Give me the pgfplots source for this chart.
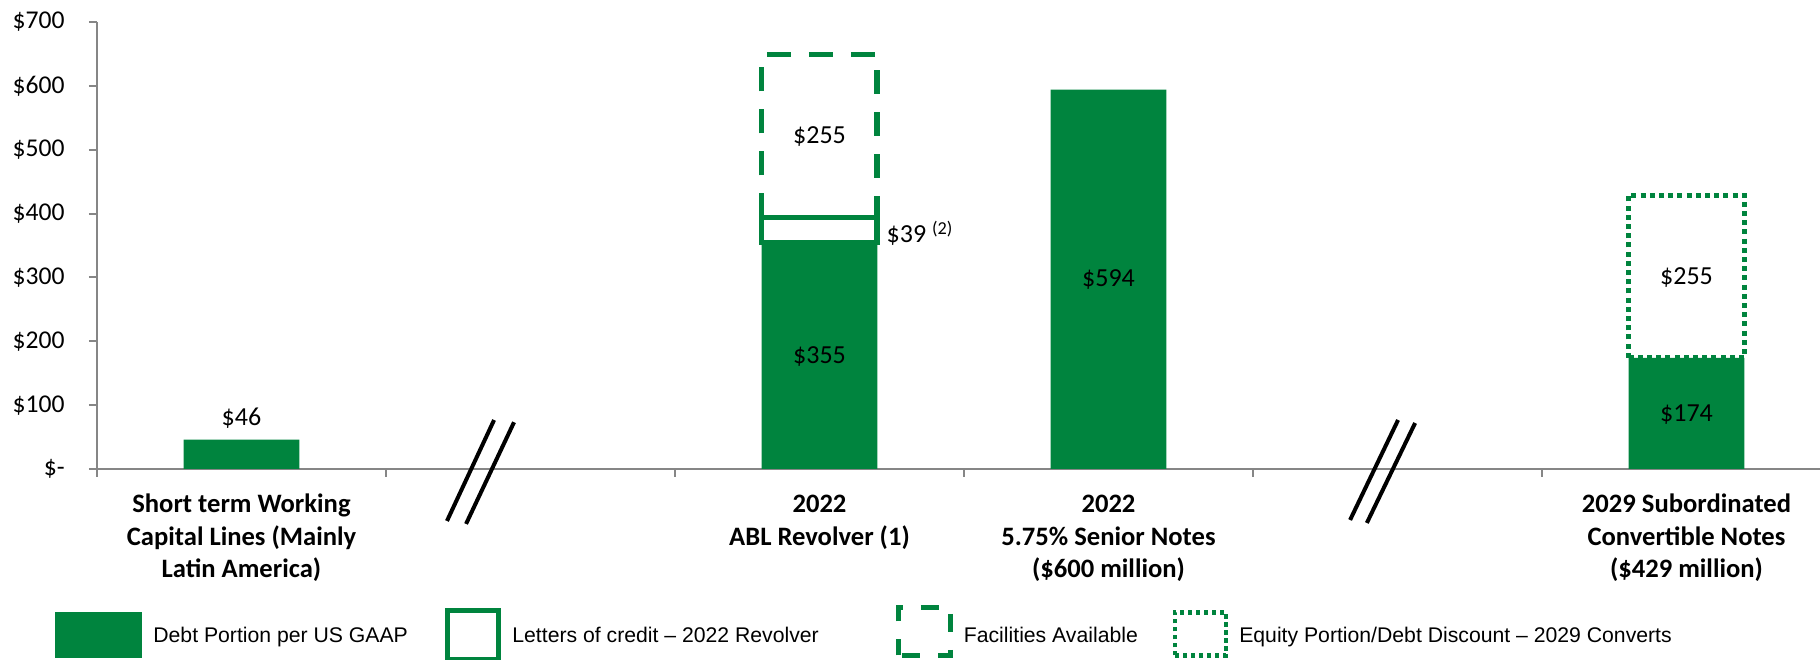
\documentclass[border=0pt]{standalone}
\usepackage{pgfplots}
\pgfplotsset{compat=1.18}
\usepackage{fontspec}
\setmainfont{Carlito}
\newfontfamily\arialf{Liberation Sans}
\definecolor{dgreen}{RGB}{0,132,62}
\definecolor{axgray}{RGB}{134,134,134}
\begin{document}
\begin{tikzpicture}
\begin{axis}[
  name=ax,
  scale only axis,
  width=861.5pt, height=223.5pt,
  xmin=-0.5, xmax=5.462, ymin=0, ymax=700,
  clip=false,
  axis lines=left,
  axis line style={draw=axgray, line width=1pt, -},
  tick style={draw=axgray, line width=1pt},
  major tick length=4pt,
  tick align=outside,
  /pgf/number format/assume math mode=true,
  ytick={0,100,200,300,400,500,600,700},
  yticklabels={\$-,\$100,\$200,\$300,\$400,\$500,\$600,\$700},
  yticklabel style={font=\fontsize{12.8}{14}\selectfont, inner sep=0pt, xshift=-12pt},
  xtick={-0.5,0.5,1.5,2.5,3.5,4.5},
  xticklabels={},
  extra x ticks={0,2,3,5},
  extra x tick labels={
    {\rule{0pt}{10pt}Short term Working\\Capital Lines (Mainly\\Latin America)},
    {\rule{0pt}{10pt}2022\\ABL Revolver (1)},
    {\rule{0pt}{10pt}2022\\5.75\% Senior Notes\\(\$600 million)},
    {\rule{0pt}{10pt}2029 Subordinated\\Convertible Notes\\(\$429 million)}},
  extra x tick style={major tick length=0pt, tick style={draw=none}},
  xticklabel style={align=center, font=\bfseries\fontsize{13.3}{16.3}\selectfont, inner sep=0pt, anchor=north, yshift=-11.6pt},
  legend columns=4,
  legend style={at={(axis description cs:0,0)}, anchor=west, xshift=-21pt, yshift=-82.25pt,
    draw=none, fill=none, inner sep=0pt,
    cells={anchor=base west},
    nodes={inner sep=0pt},
    font=\arialf\fontsize{10.6}{12}\selectfont,
    /tikz/every odd column/.append style={column sep=5.5pt},
    /tikz/every even column/.append style={column sep=0pt}},
]
% Debt portion per US GAAP
\addplot[ybar, bar width=0.4, bar shift=0pt, fill=dgreen, draw=none,
  legend image code/.code={\fill[dgreen] (0pt,-7.55pt) rectangle (43.5pt,15.15pt);}]
  coordinates {(0,46) (2,355) (3,594) (5,174)};
% Letters of credit - 2022 Revolver (355 to 394)
\addplot[draw=dgreen, line width=2.8pt, fill=white, line join=miter,
  legend image code/.code={\draw[draw=dgreen, fill=white, line width=2.5pt] (1.25pt,-8.45pt) rectangle (26.75pt,16.05pt);}]
  coordinates {(1.8,355) (1.8,394) (2.2,394) (2.2,355)} -- cycle;
% Facilities available (394 to 649)
\addplot[draw=dgreen, line width=2.8pt, dash pattern=on 12pt off 9pt,
  legend image code/.code={\draw[draw=dgreen, fill=none, line width=2.5pt, dash pattern=on 9pt off 9pt, dash phase=1pt] (1.25pt,-6.45pt) rectangle (27pt,17.55pt);}]
  coordinates {(1.8,394) (1.8,649) (2.2,649) (2.2,394)};
% Equity portion / debt discount (174 to 429)
\addplot[draw=dgreen, line width=2.5pt, dash pattern=on 2.5pt off 2.1pt,
  legend image code/.code={\draw[draw=dgreen, fill=none, line width=2.2pt, dash pattern=on 2.2pt off 1.8pt] (1.25pt,-6.45pt) rectangle (26.75pt,15.05pt);}]
  coordinates {(4.8,174) (4.8,429) (5.2,429) (5.2,174)} -- cycle;
\legend{\makebox[146pt][l]{Debt Portion per US GAAP},
  \makebox[192pt][l]{Letters of credit \textendash{} 2022 Revolver},
  \makebox[104.5pt][l]{Facilities Available},
  Equity Portion/Debt Discount \textendash{} 2029 Converts}
% value labels
\begin{scope}[every node/.style={font=\fontsize{13}{15}\selectfont}]
\node at (axis cs:0,80) {\$46};
\node at (axis cs:2,176) {\$355};
\node at (axis cs:2,520) {\$255};
\node[anchor=west, inner sep=0pt, xshift=4.5pt] at (axis cs:2.2,369) {\$39 \textsuperscript{(2)}};
\node at (axis cs:3,296) {\$594};
\node at (axis cs:5,84.5) {\$174};
\node at (axis cs:5,300) {\$255};
\end{scope}
% axis break marks
\draw[black, line width=2pt] (axis cs:0.711,-81.4) -- (axis cs:0.874,76.7);
\draw[black, line width=2pt] (axis cs:0.777,-86) -- (axis cs:0.943,73.2);
\draw[black, line width=2pt] (axis cs:3.836,-79.8) -- (axis cs:4.002,76.7);
\draw[black, line width=2pt] (axis cs:3.894,-84.5) -- (axis cs:4.061,72);
\end{axis}
\pgfresetboundingbox
\useasboundingbox ([xshift=-48.5pt,yshift=-95.5pt]ax.south west) rectangle ([yshift=11pt]ax.north east);
\end{tikzpicture}
\end{document}
